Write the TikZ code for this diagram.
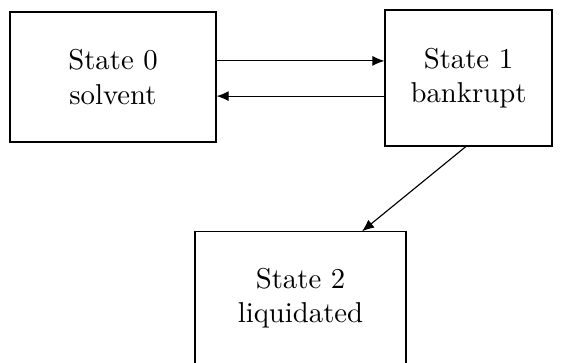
\documentclass[tikz,border=0pt]{standalone}
\usetikzlibrary{arrows.meta}
\begin{document}
\begin{tikzpicture}[
x=0.348pt, y=-0.348pt,
state/.style={rectangle, draw, align=center},
>={Latex[length=4.2pt,width=3.5pt]}
]
\useasboundingbox (0,0) rectangle (584,362);
  \node[state, minimum width=71.7pt, minimum height=45.2pt] (s0) at (113,77) {State 0\\solvent};
  \node[state, minimum width=58.1pt, minimum height=47.3pt] (s1) at (468.5,78) {State 1\\bankrupt};
  \node[state, minimum width=73.4pt, minimum height=46pt] (s2) at (300.5,298) {State 2\\liquidated};
  \draw[->] ([yshift=5.6pt]s0.east) -- ([yshift=5.6pt]s0.east -| s1.west);
  \draw[->] ([yshift=-6.3pt]s1.west -| s1.west) -- ([yshift=-6.3pt]s1.west -| s0.east);
  \draw[->] ([xshift=-0.9pt]s1.south) -- ([xshift=21.4pt]s2.north);
\end{tikzpicture}
\end{document}
